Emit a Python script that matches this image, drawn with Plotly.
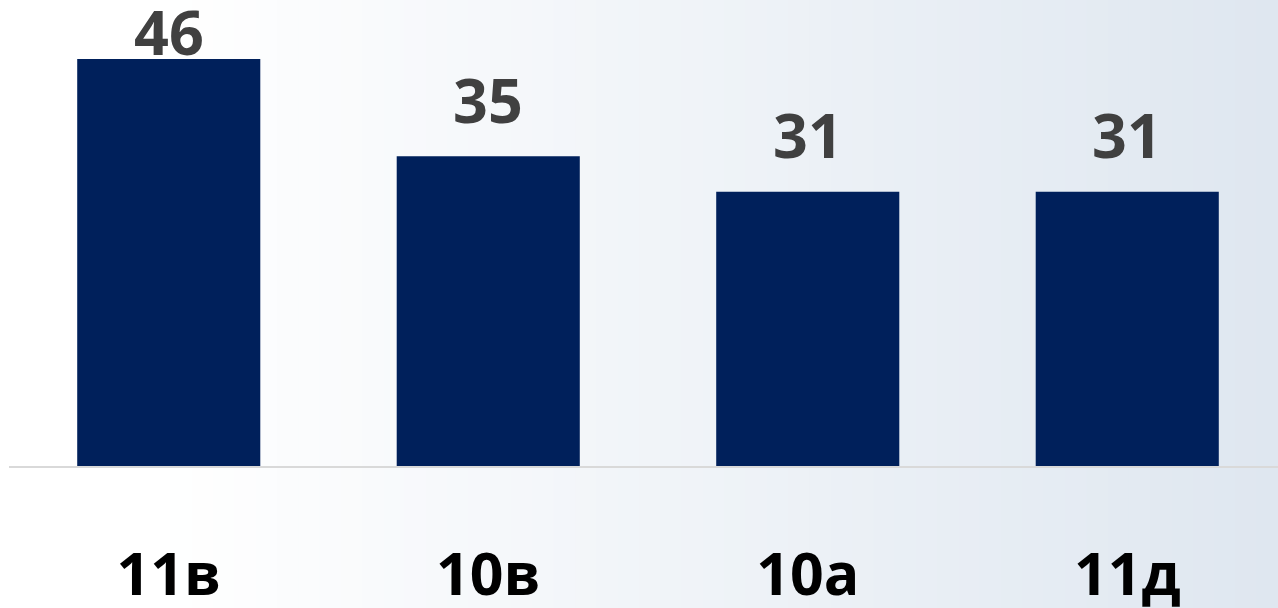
import plotly.graph_objects as go

categories = ["11в", "10в", "10а", "11д"]
values = [46, 35, 31, 31]
value_labels = ["46", "35", "31", "31"]

W, H = 1278, 608
ML, MR, MT, MB = 9, 0, 10, 142
plot_w = W - ML - MR
plot_h = H - MT - MB
px_per_unit = 407 / 46.0
ymax = plot_h / px_per_unit
band = 319.5
xmax = -0.5 + plot_w / band

label_gap = 1.5
label_cap = 44.2
label_y = [min(v + label_gap, label_cap) for v in values]

fig = go.Figure()
fig.add_trace(go.Bar(
    x=categories, y=values,
    marker=dict(color="#00205b", line=dict(width=0)),
    hoverinfo="skip",
))

for c, ly, t in zip(categories, label_y, value_labels):
    fig.add_annotation(x=c, y=ly, text=t, showarrow=False, yanchor="bottom",
                       font=dict(family="Open Sans", size=61, color="#404040", weight="bold"))

# background gradient (white -> light blue-grey), drawn as vertical stripes
n = 60
c0 = (255, 255, 255)
c1 = (223, 231, 240)
shapes = []
x_left = -ML / plot_w
x_right = (W - ML) / plot_w
y_bot = -MB / plot_h
y_top = (H - MB) / plot_h
for i in range(n):
    f = i / (n - 1)
    f2 = max(0.0, (f - 0.12) / 0.88)
    col = tuple(round(a + (b - a) * f2) for a, b in zip(c0, c1))
    x0 = x_left + (x_right - x_left) * i / n
    x1 = x_left + (x_right - x_left) * (i + 1) / n + 0.001
    shapes.append(dict(type="rect", xref="paper", yref="paper", x0=x0, x1=x1,
                       y0=y_bot, y1=y_top, fillcolor="rgb(%d,%d,%d)" % col,
                       line=dict(width=0), layer="below"))

fig.update_layout(
    width=W, height=H,
    margin=dict(l=ML, r=MR, t=MT, b=MB, autoexpand=False),
    paper_bgcolor="white",
    plot_bgcolor="rgba(0,0,0,0)",
    bargap=0.427,
    showlegend=False,
    shapes=shapes,
    xaxis=dict(range=[-0.5, xmax], showgrid=False, zeroline=False,
               showline=True, linecolor="#d9d9d9", linewidth=2,
               ticks="", ticklabelstandoff=56, automargin=False,
               tickfont=dict(family="Open Sans", size=59, color="#000000", weight="bold")),
    yaxis=dict(range=[0, ymax], visible=False, automargin=False),
)

fig.write_html("out.html", config={"displayModeBar": False},
               post_script="document.body.style.margin='0';document.body.style.overflow='hidden';")
